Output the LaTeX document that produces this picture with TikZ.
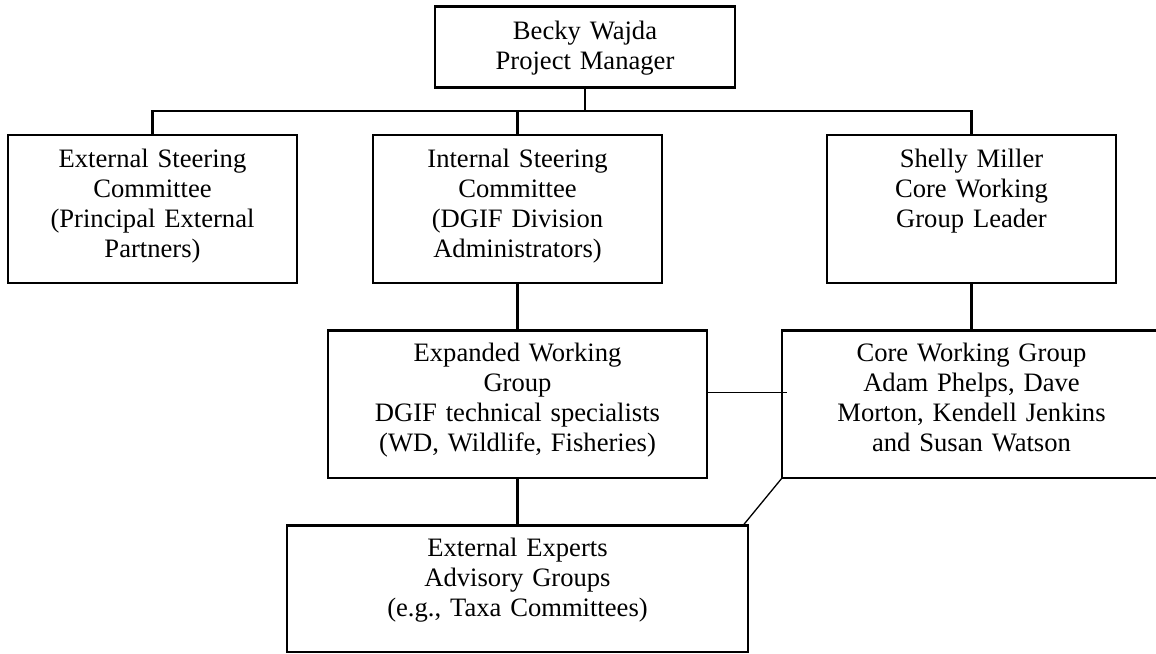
\documentclass[tikz,border=0pt]{standalone}
\usepackage{fontspec}
\setmainfont{Liberation Serif}
\usepackage{tikz}
\usetikzlibrary{positioning}
\tikzset{
  box/.style={draw, line width=1.3pt, inner sep=0pt, outer sep=0pt, align=center, font=\fontsize{13.3}{15}\selectfont},
  link/.style={line width=1.3pt},
  thinlink/.style={line width=0.65pt}
}

\begin{document}
\begin{tikzpicture}[x=0.5pt, y=-0.5pt]
      \useasboundingbox (0,0) rectangle (1156,653);
      \node(pm) [box, anchor=north, text width=150pt, text height=16.5pt, text depth=23.8pt] at (585,6.7) {Becky Wajda\\Project Manager};
      \node(isc) [box, below=23.85pt of pm, xshift=-33.75pt, text width=144.5pt, text height=16pt, text depth=58pt] {Internal Steering\\Committee\\(DGIF Division\\Administrators)};
      \node(esc) [box, left=38pt of isc, text width=144.5pt, text height=16pt, text depth=58pt] {External Steering\\Committee\\(Principal External\\Partners)};
      \node(sm) [box, right=82.5pt of isc, text width=144.5pt, text height=16pt, text depth=58pt] {Shelly Miller\\Core Working\\Group Leader};
      \node(ewg) [box, below=23.75pt of isc, text width=189.5pt, text height=15.5pt, text depth=58.25pt] {Expanded Working\\Group\\DGIF technical specialists\\(WD, Wildlife, Fisheries)};
      \node(cwg) [box, right=37.5pt of ewg, text width=189.5pt, text height=15.5pt, text depth=58.25pt] {Core Working Group\\Adam Phelps, Dave\\Morton, Kendell Jenkins\\and Susan Watson};
      \node(ee) [box, below=23.75pt of ewg, text width=230.5pt, text height=15.5pt, text depth=47.75pt] {External Experts\\Advisory Groups\\(e.g., Taxa Committees)};
      \coordinate[below=11.85pt of pm] (bus);

      \draw[link](pm) -- (bus);
      \draw[link](esc) |- (bus) -| (sm);
      \draw[link](isc) -- (isc |- bus);
      \draw[link](isc) -- (ewg);
      \draw[link](sm) -- (cwg);
      \draw[link](ewg) -- (ee);
      \draw[thinlink]([yshift=5.75pt]ewg.east) -- ([xshift=2.5pt, yshift=5.75pt]cwg.west);
      \draw[thinlink](cwg.south west) -- ([xshift=-2.5pt]ee.north east);
    \end{tikzpicture}
\end{document}
